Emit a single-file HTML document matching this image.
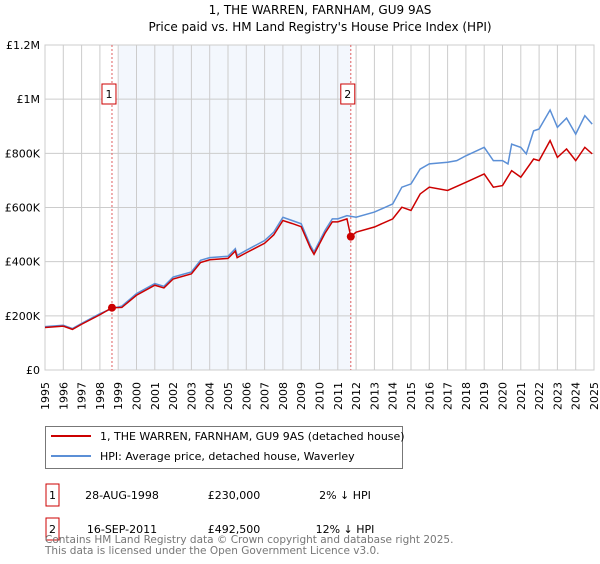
<!DOCTYPE html>
<html><head><meta charset="utf-8"><style>
body{margin:0;background:#fff;font-family:"DejaVu Sans","Liberation Sans",sans-serif;}
svg text{font-family:"DejaVu Sans","Liberation Sans",sans-serif;}
</style></head><body>
<svg id="c" width="600" height="560" xmlns="http://www.w3.org/2000/svg">
<text x="320" y="14" font-size="12" text-anchor="middle" fill="#000">1, THE WARREN, FARNHAM, GU9 9AS</text>
<text x="320" y="31" font-size="12" text-anchor="middle" fill="#000">Price paid vs. HM Land Registry's House Price Index (HPI)</text>
<g id="plot"></g>
<g>
<rect x="45.5" y="426.5" width="357" height="42" fill="#fff" stroke="#777"/>
<line x1="51" y1="436" x2="91" y2="436" stroke="#cc0000" stroke-width="2"/>
<text x="100" y="440" font-size="11">1, THE WARREN, FARNHAM, GU9 9AS (detached house)</text>
<line x1="51" y1="456" x2="91" y2="456" stroke="#5b8fd6" stroke-width="2"/>
<text x="100" y="460" font-size="11">HPI: Average price, detached house, Waverley</text>
</g>
<g font-size="11">
<rect x="46" y="484" width="13" height="22" fill="#fff" stroke="#cc0000"/>
<text x="52.5" y="499" text-anchor="middle">1</text>
<text x="122" y="499" text-anchor="middle">28-AUG-1998</text>
<text x="234" y="499" text-anchor="middle">£230,000</text>
<text x="345" y="499" text-anchor="middle">2% ↓ HPI</text>
<rect x="46" y="518" width="13" height="22" fill="#fff" stroke="#cc0000"/>
<text x="52.5" y="533" text-anchor="middle">2</text>
<text x="122" y="533" text-anchor="middle">16-SEP-2011</text>
<text x="234" y="533" text-anchor="middle">£492,500</text>
<text x="345" y="533" text-anchor="middle">12% ↓ HPI</text>
</g>
<text x="45" y="543" font-size="10.5" fill="#777">Contains HM Land Registry data © Crown copyright and database right 2025.</text>
<text x="45" y="554" font-size="10.5" fill="#777">This data is licensed under the Open Government Licence v3.0.</text>
</svg>
<script>
const hpiYears=[1995,1996,1996.5,1997,1998,1998.66,1999.2,2000,2001,2001.5,2002,2003,2003.5,2004,2005,2005.4,2005.5,2006,2007,2007.5,2008,2008.5,2009,2009.5,2009.7,2010.3,2010.7,2011,2011.5,2012,2013,2014,2014.5,2015,2015.5,2016,2017,2017.5,2018,2019,2019.5,2020,2020.3,2020.5,2021,2021.3,2021.7,2022,2022.6,2023,2023.5,2024,2024.5,2024.9];
const hpiValues=[160,165,153,172,208,227,236,282,319,309,343,362,405,415,420,448,423,442,478,509,564,552,540,460,436,515,558,558,570,564,583,613,675,687,742,761,767,773,791,822,773,773,761,834,822,798,883,890,960,896,930,871,939,908];
const redYears=[1995,1996,1996.5,1997,1998,1998.66,1999.2,2000,2001,2001.5,2002,2003,2003.5,2004,2005,2005.4,2005.5,2006,2007,2007.5,2008,2008.5,2009,2009.5,2009.7,2010.3,2010.7,2011,2011.5,2011.71,2012,2013,2014,2014.5,2015,2015.5,2016,2017,2018,2019,2019.5,2020,2020.5,2021,2021.7,2022,2022.6,2023,2023.5,2024,2024.5,2024.9];
const redValues=[157,162,150,169,204,230,231,276,313,303,336,355,397,407,412,439,415,433,468,499,552,541,529,451,427,505,547,547,558,492.5,509,528,558,601,589,650,675,663,693,724,675,681,736,712,779,773,847,785,816,773,822,798];
const saleYears=[1998.66,2011.71];
const saleValues=[230,492.5];
const saleLabels=["1","2"];
const yTicks=[0,200,400,600,800,1000,1200];
const yTickLabels=["£0","£200K","£400K","£600K","£800K","£1M","£1.2M"];
const xTicks=[1995,1996,1997,1998,1999,2000,2001,2002,2003,2004,2005,2006,2007,2008,2009,2010,2011,2012,2013,2014,2015,2016,2017,2018,2019,2020,2021,2022,2023,2024,2025];

const L=45,R=594,T=45,B=370,NS="http://www.w3.org/2000/svg";
const sx=y=>L+(y-1995)/30*(R-L);
const sy=v=>B-v/1200*(B-T);
const g=document.getElementById('plot');
function mk(tag,attrs,parent){const e=document.createElementNS(NS,tag);for(const k in attrs)e.setAttribute(k,attrs[k]);(parent||g).appendChild(e);return e;}
const shade=mk('rect',{x:sx(1999.05),y:T,width:sx(2011.71)-sx(1999.05),height:B-T,fill:'#eef3fc',opacity:0.7});


xTicks.forEach(y=>{
 const l=mk('line',{x1:sx(y),x2:sx(y),y1:T,y2:B,stroke:'#ccc','stroke-width':1});
 
 
 const tx=sx(y)+4,ty=B+12;
 const t=mk('text',{x:tx,y:ty,'font-size':11,'text-anchor':'end',transform:'rotate(-90 '+tx+' '+ty+')'});t.textContent=y;
 
 
});
yTicks.forEach((v,i)=>{
 const l=mk('line',{x1:L,x2:R,y1:sy(v),y2:sy(v),stroke:'#ccc','stroke-width':1});
 
 
 const t=mk('text',{x:L-5,y:sy(v)+4,'font-size':11,'text-anchor':'end'});t.textContent=yTickLabels[i];
 
 
});
mk('rect',{x:L,y:T,width:R-L,height:B-T,fill:'none',stroke:'#ccc'});
saleYears.forEach((y,i)=>{
 const l=mk('line',{x1:sx(y),x2:sx(y),y1:T,y2:B,stroke:'#e06060','stroke-dasharray':'2,2','stroke-width':1});
 
 
 const bx=sx(y)-3;
 const r=mk('rect',{x:bx-7,y:84,width:14,height:20,fill:'#fff',stroke:'#cc0000'});
 
 
 const t=mk('text',{x:bx,y:98,'font-size':11,'text-anchor':'middle'});t.textContent=saleLabels[i];
});
function line(xs,vs,col,name){
 const p=mk('polyline',{points:xs.map((x,i)=>sx(x)+','+sy(vs[i])).join(' '),fill:'none',stroke:col,'stroke-width':1.5});
 
 
}
line(hpiYears,hpiValues,'#5b8fd6','hpi-line');
line(redYears,redValues,'#cc0000','property-line');
saleYears.forEach((y,i)=>{
 const c=mk('circle',{cx:sx(y),cy:sy(saleValues[i]),r:4,fill:'#cc0000'});
 
 
});
</script>
</body></html>
